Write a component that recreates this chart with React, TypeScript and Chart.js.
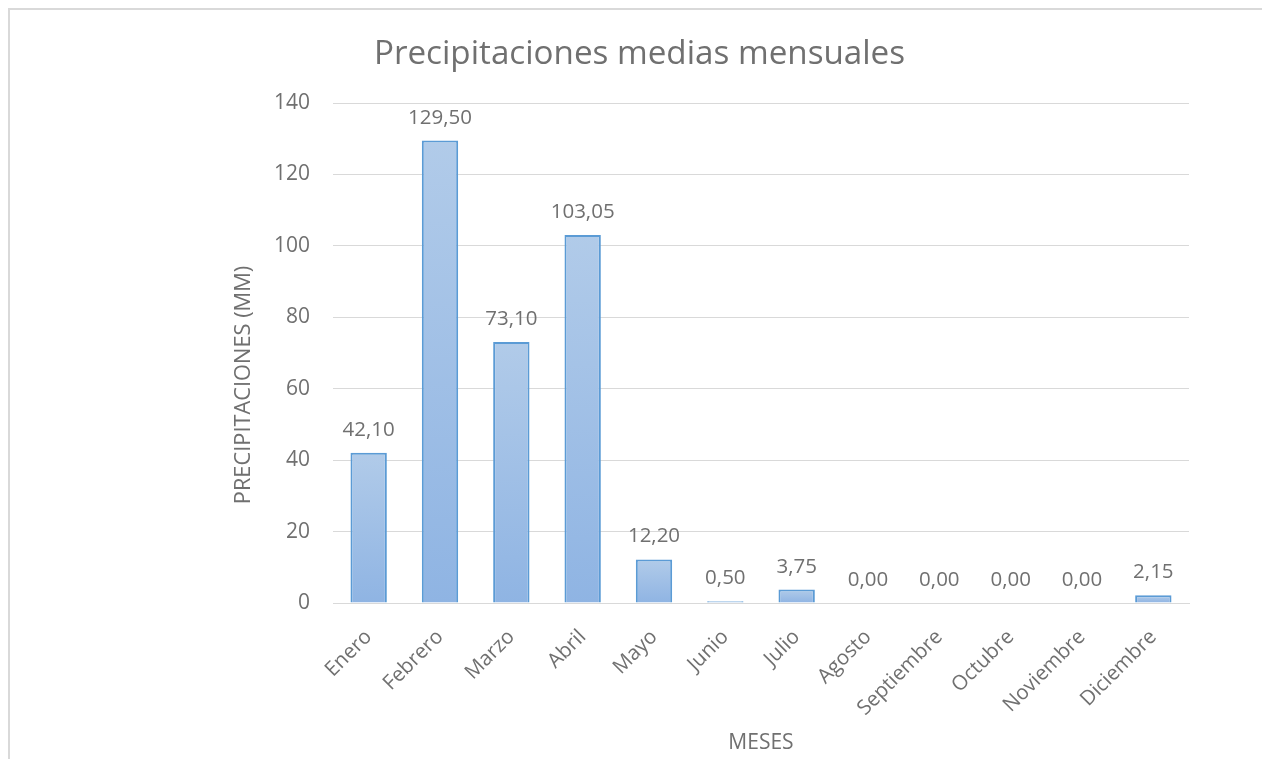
import { useEffect, useRef } from 'react';
import { Chart, registerables } from 'chart.js';

Chart.register(...registerables);

const categories = ['Enero', 'Febrero', 'Marzo', 'Abril', 'Mayo', 'Junio', 'Julio', 'Agosto', 'Septiembre', 'Octubre', 'Noviembre', 'Diciembre'];
const precipitation = [42.1, 129.5, 73.1, 103.05, 12.2, 0.5, 3.75, 0, 0, 0, 0, 2.15];
const yMin = 0;
const yMax = 140;
const yStep = 20;
const chartTitle = 'Precipitaciones medias mensuales';
const yAxisTitle = 'PRECIPITACIONES (MM)';
const xAxisTitle = 'MESES';

const FONT = '"Open Sans", sans-serif';
const TEXT = '#707070';
const GRID = '#d9d9d9';

const textPlugin = {
  id: 'texts',
  afterDraw(chart: any) {
    const { ctx, chartArea } = chart;
    ctx.save();
    ctx.fillStyle = TEXT;
    // title
    ctx.font = `33.2px ${FONT}`;
    ctx.textAlign = 'center';
    ctx.textBaseline = 'alphabetic';
    ctx.fillText(chartTitle, chart.width / 2, 54);
    // x axis title
    ctx.font = `21px ${FONT}`;
    ctx.fillText(xAxisTitle, (chartArea.left + chartArea.right) / 2, 739);
    // y axis title
    ctx.save();
    ctx.font = `21.8px ${FONT}`;
    ctx.translate(234, (chartArea.top + chartArea.bottom) / 2 + 32);
    ctx.rotate(-Math.PI / 2);
    ctx.textBaseline = 'middle';
    ctx.fillText(yAxisTitle, 0, 0);
    ctx.restore();
    // data labels
    const meta = chart.getDatasetMeta(0);
    ctx.font = `20.5px ${FONT}`;
    ctx.textBaseline = 'alphabetic';
    meta.data.forEach((el: any, i: number) => {
      const v = precipitation[i];
      ctx.fillText(v.toFixed(2).replace('.', ','), el.x, el.y - 17);
    });
    ctx.restore();
  },
};

export default function App() {
  const ref = useRef<HTMLCanvasElement>(null);
  useEffect(() => {
    if (!ref.current) return;
    const chart = new Chart(ref.current, {
      type: 'bar',
      data: {
        labels: categories,
        datasets: [
          {
            data: precipitation,
            backgroundColor: (c: any) => {
              const ch = c.chart;
              const ys = ch.scales?.y;
              if (!ys || c.dataIndex === undefined) return '#a3c1e6';
              const top = ys.getPixelForValue(precipitation[c.dataIndex]);
              const bottom = ys.getPixelForValue(0);
              if (!isFinite(top) || !isFinite(bottom)) return '#a3c1e6';
              const g = ch.ctx.createLinearGradient(0, top, 0, Math.max(bottom, top + 1));
              g.addColorStop(0, '#b1cbe9');
              g.addColorStop(1, '#8fb4e3');
              return g;
            },
            borderColor: '#5b9bd5',
            borderWidth: 2,
            barPercentage: 0.51,
            categoryPercentage: 1,
          },
        ],
      },
      options: {
        responsive: false,
        animation: false,
        layout: { padding: { top: 93, right: 80, left: 0, bottom: 0 } },
        plugins: {
          legend: { display: false },
          title: { display: false },
          tooltip: { enabled: false },
        },
        scales: {
          x: {
            grid: { display: false, drawTicks: false },
            border: { display: true, color: GRID, width: 1 },
            ticks: {
              color: TEXT,
              font: { family: FONT, size: 20.5 },
              minRotation: 45,
              maxRotation: 45,
              autoSkip: false,
              padding: 22,
              labelOffset: 0,
            },
            afterFit: (s: any) => {
              s.height = 156;
            },
          },
          y: {
            min: yMin,
            max: yMax,
            ticks: {
              stepSize: yStep,
              color: TEXT,
              font: { family: FONT, size: 21 },
              padding: 23,
            },
            grid: { color: GRID, drawTicks: false, lineWidth: 1 },
            border: { display: false },
            afterFit: (s: any) => {
              s.width = 323;
            },
          },
        },
      },
      plugins: [textPlugin],
    });
    return () => chart.destroy();
  }, []);

  return (
    <div
      style={{
        width: 1262,
        height: 751,
        boxSizing: 'border-box',
        borderTop: '2px solid #d9d9d9',
        borderLeft: '2px solid #d9d9d9',
        borderRight: '1px solid #ececec',
        background: '#fff',
      }}
    >
      <canvas ref={ref} width={1259} height={749} style={{ display: 'block' }} />
    </div>
  );
}
